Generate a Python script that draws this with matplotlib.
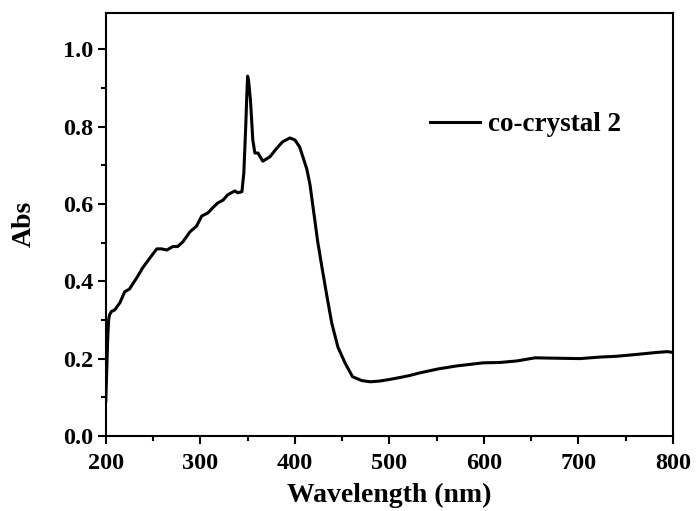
import matplotlib
matplotlib.use("Agg")
import matplotlib.pyplot as plt
import numpy as np
from matplotlib.ticker import MultipleLocator

wavelength = [200, 201, 202, 203, 204, 206, 209.5, 215, 220, 225, 233, 239, 245, 249, 254, 259, 264.5,
              271, 276, 281.5, 289, 296, 301.5, 308, 313, 318.5, 324, 329, 336.5, 339.7, 344, 346,
              348, 349, 350, 351, 353, 355.5, 357.7, 361, 366, 373.5, 381, 387, 394.7, 400, 405,
              408.5, 412.7, 416, 418.5, 421, 424, 428.6, 434, 439, 445.5, 453, 461, 471, 480, 490, 500,
              511, 521, 532, 551, 571, 599, 617, 635, 654, 677, 701.6, 723, 740, 758, 783, 793.7, 800]
absorbance = [0.09, 0.17, 0.25, 0.30, 0.313, 0.322, 0.326, 0.345, 0.373, 0.38, 0.41, 0.435, 0.455, 0.468, 0.484, 0.484, 0.481,
              0.49, 0.49, 0.502, 0.528, 0.543, 0.569, 0.577, 0.59, 0.603, 0.61, 0.624, 0.634, 0.629, 0.632, 0.68,
              0.80, 0.87, 0.931, 0.92, 0.87, 0.766, 0.732, 0.732, 0.711, 0.722, 0.745, 0.761, 0.771, 0.766, 0.748,
              0.722, 0.69, 0.65, 0.605, 0.56, 0.505, 0.437, 0.36, 0.292, 0.23, 0.189, 0.153, 0.143, 0.140, 0.142, 0.146,
              0.151, 0.156, 0.163, 0.173, 0.181, 0.189, 0.190, 0.194, 0.202, 0.201, 0.200, 0.204, 0.206, 0.210, 0.216, 0.218, 0.216]

xticks = [200, 300, 400, 500, 600, 700, 800]
yticks = [0.0, 0.2, 0.4, 0.6, 0.8, 1.0]

plt.rcParams['font.family'] = ['Liberation Serif', 'DejaVu Serif']
plt.rcParams['font.weight'] = 'bold'

fig = plt.figure(figsize=(6.96, 5.11), dpi=100)
ax = fig.add_axes([0.152, 0.147, 0.815, 0.828])

ax.plot(wavelength, absorbance, color='black', linewidth=2.2, label='co-crystal 2')

ax.set_xlim(200, 800)
ax.set_ylim(0, 1.095)
ax.set_xticks(xticks)
ax.set_yticks(yticks)
ax.set_xticklabels([str(v) for v in xticks])
ax.set_yticklabels([f"{v:.1f}" for v in yticks])
ax.xaxis.set_minor_locator(MultipleLocator(50))
ax.yaxis.set_minor_locator(MultipleLocator(0.1))
ax.tick_params(which='both', direction='out', width=1.5, top=False, right=False)
ax.tick_params(which='major', length=6, labelsize=17.5)
ax.tick_params(which='minor', length=3.5)
ax.tick_params(axis='x', which='major', pad=6)
ax.tick_params(axis='y', which='major', pad=3)
for lbl in ax.get_xticklabels() + ax.get_yticklabels():
    lbl.set_fontweight('bold')
for s in ax.spines.values():
    s.set_linewidth(1.5)

ax.set_xlabel('Wavelength (nm)', fontsize=20, fontweight='bold', labelpad=7)
ax.set_ylabel('Abs', fontsize=20, fontweight='bold', labelpad=19)

leg = ax.legend(loc='upper left', bbox_to_anchor=(0.529, 0.823), frameon=False,
                prop={'family': 'Liberation Serif', 'weight': 'bold', 'size': 19.5},
                handlelength=1.85, handletextpad=0.3)

fig.savefig('out.png', dpi=100)
